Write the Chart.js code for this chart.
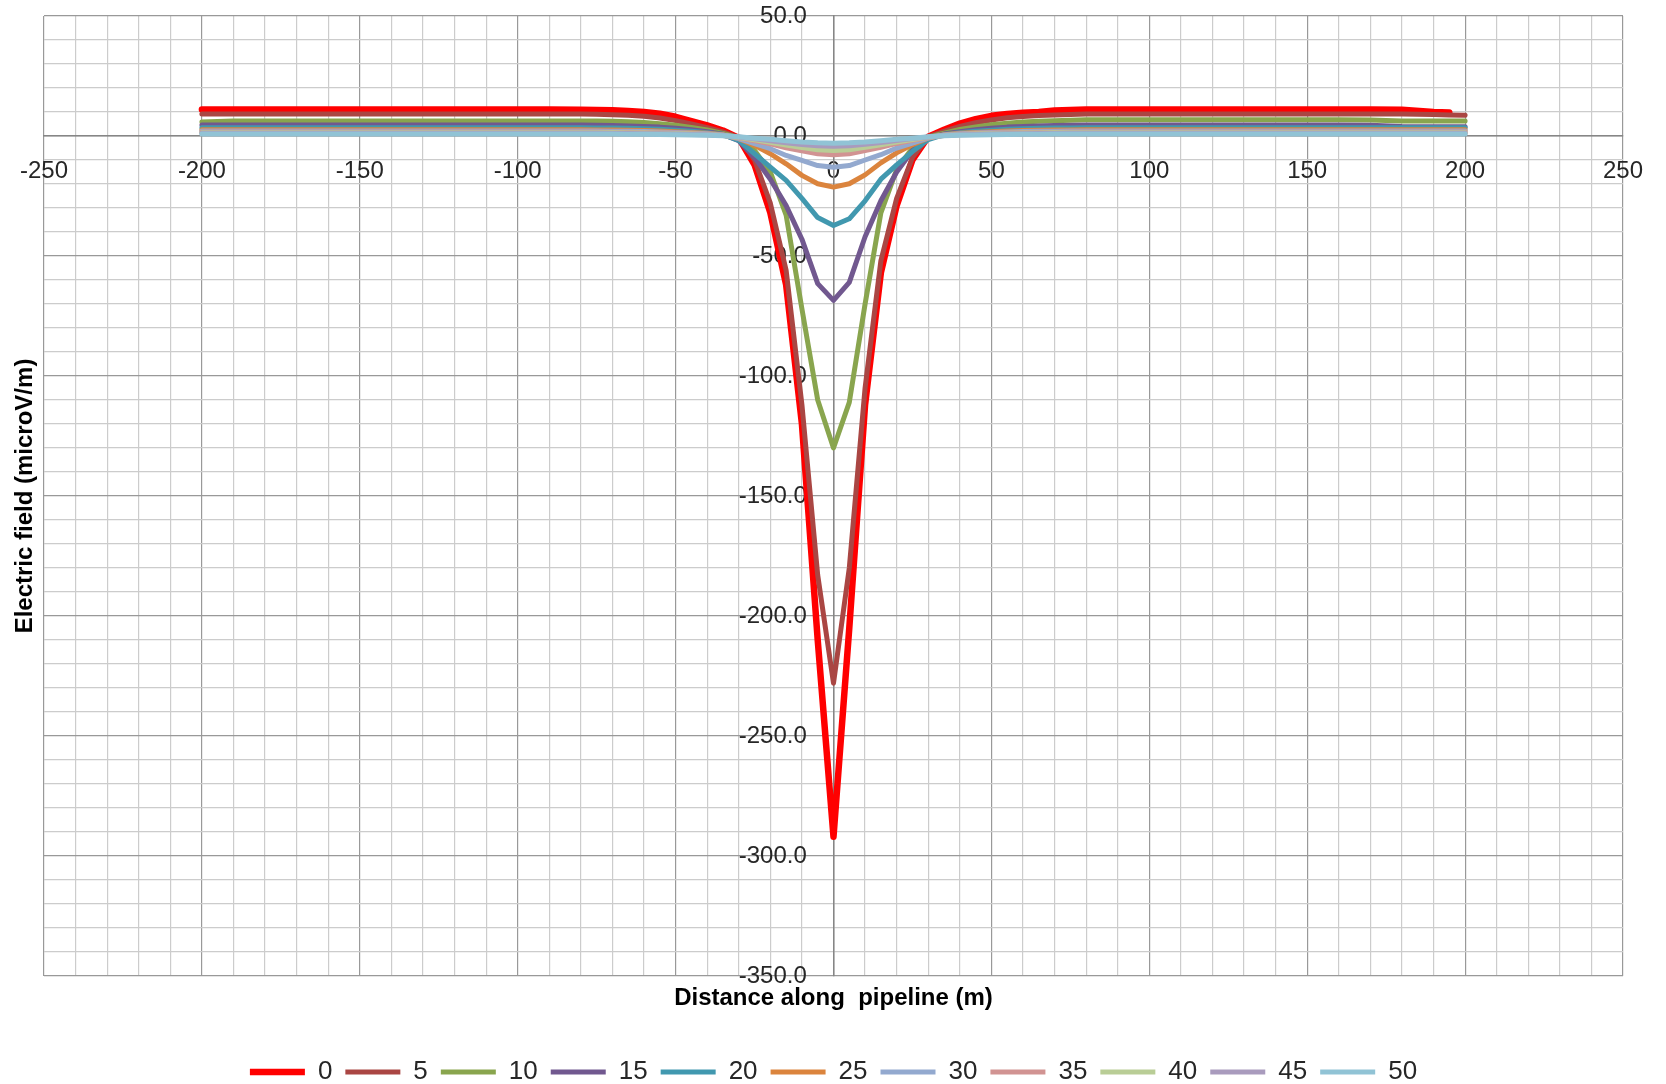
<!DOCTYPE html>
<html>
<head>
<meta charset="utf-8">
<title>Electric field along pipeline</title>
<script src="https://cdn.jsdelivr.net/npm/chart.js@4.4.1/dist/chart.umd.min.js"></script>
<style>
    html, body { margin: 0; padding: 0; background: #ffffff; }
    #wrap { width: 1666px; height: 1084px; }
</style>
</head>
<body>
<div id="wrap"><canvas id="alanChart" width="1666" height="1084"></canvas></div>
<script>
// Mesafe noktalari (m)
const xPos = [-200,-190,-180,-170,-160,-150,-140,-130,-120,-110,-100,-90,-80,
    -75,-70,-65,-60,-55,-50,-45,-40,-35,
    -30,-25,-20,-15,-10,-5,0,5,10,15,20,25,30,
    35,40,45,50,55,60,65,70,75,
    80,90,100,110,120,130,140,150,160,170,180,190,195,200];

// Seri adlari (legend)
const seriesNames = ['0','5','10','15','20','25','30','35','40','45','50'];

// Seri degerleri (microV/m)
const e0 = [11,11,11,11,11,11,11,11,11,11,11,11,10.9,
    10.8,10.7,10.4,10.0,9.3,8.0,6.2,4.4,2.3,
    -0.8,-12,-32,-62,-120,-210,-292,-205,-112,-57,-29,-10,-0.3,
    2.6,5.2,7.0,8.4,9.2,9.7,10.0,10.6,10.8,
    11,11,11,11,11,11,11,11,11,11,10.9,10.0,9.8,null];
const e5 = [9.2,9.2,9.2,9.2,9.2,9.2,9.2,9.2,9.2,9.2,9.2,9.2,9.2,
    9.1,8.9,8.6,8.2,7.5,6.4,5.0,3.5,1.7,
    -0.6,-10,-28,-56,-112,-183,-228,-180,-105,-52,-26,-9,-0.3,
    1.9,4.0,5.5,6.7,7.6,8.1,8.5,8.8,9.0,
    9.2,9.2,9.2,9.2,9.2,9.2,9.2,9.2,9.2,9.2,9.2,9.0,8.8,8.6];
const e10 = [5.8,6.3,6.3,6.3,6.3,6.3,6.3,6.3,6.3,6.3,6.3,6.3,6.3,
    6.3,6.1,5.9,5.6,5.1,4.5,3.6,2.5,1.1,
    -0.8,-6,-15,-33,-72,-110,-130,-111,-70,-32,-14,-5,-0.5,
    1.2,2.7,3.8,4.7,5.3,5.8,6.1,6.4,6.6,
    6.8,6.8,6.8,6.8,6.8,6.8,6.8,6.8,6.8,6.7,6.2,6.2,6.2,6.2];
const e15 = [4.6,4.6,4.6,4.6,4.6,4.6,4.6,4.6,4.6,4.6,4.6,4.6,4.6,
    4.5,4.4,4.2,4.0,3.7,3.2,2.6,1.8,0.7,
    -2,-9,-18,-29,-43,-61.5,-68.5,-61,-42,-27,-15,-6,-1,
    0.8,1.8,2.6,3.2,3.7,4.0,4.2,4.4,4.5,
    4.6,4.6,4.6,4.6,4.6,4.6,4.6,4.6,4.6,4.5,4.0,3.9,3.9,3.9];
const e20 = [3.4,3.4,3.4,3.4,3.4,3.4,3.4,3.4,3.4,3.4,3.4,3.4,3.4,
    3.3,3.3,3.2,3.0,2.8,2.4,2.0,1.4,0.6,
    -1.8,-7.4,-13,-18.5,-26,-34,-37.3,-34.5,-27,-18,-12,-6.5,-1.5,
    0.6,1.4,2.0,2.4,2.8,3.0,3.2,3.3,3.3,
    3.4,3.4,3.4,3.4,3.4,3.4,3.4,3.4,3.4,3.4,3.4,3.4,3.4,3.4];
const e25 = [2.6,2.6,2.6,2.6,2.6,2.6,2.6,2.6,2.6,2.6,2.6,2.6,2.6,
    2.55,2.5,2.4,2.3,2.1,1.8,1.5,1.1,0.5,
    -1.1,-3.9,-7.4,-11.6,-16.4,-19.9,-21.3,-19.9,-16.2,-11.2,-7,-3.6,-0.9,
    0.5,1.1,1.5,1.8,2.1,2.3,2.4,2.5,2.55,
    2.6,2.6,2.6,2.6,2.6,2.6,2.6,2.6,2.6,2.6,2.6,2.6,2.6,2.6];
const e30 = [2.1,2.1,2.1,2.1,2.1,2.1,2.1,2.1,2.1,2.1,2.1,2.1,2.1,
    2.05,2.0,1.95,1.85,1.7,1.5,1.2,0.9,0.4,
    -1.1,-3.2,-5.3,-8.1,-10.2,-12.3,-13,-12.3,-10,-7.8,-5,-3,-0.9,
    0.4,0.9,1.2,1.5,1.7,1.85,1.95,2.0,2.05,
    2.1,2.1,2.1,2.1,2.1,2.1,2.1,2.1,2.1,2.1,2.1,2.1,2.1,2.1];
const e35 = [1.7,1.7,1.7,1.7,1.7,1.7,1.7,1.7,1.7,1.7,1.7,1.7,1.7,
    1.65,1.6,1.55,1.5,1.4,1.2,1.0,0.7,0.3,
    -0.7,-2,-3.3,-4.9,-6.2,-7.4,-7.8,-7.4,-6.1,-4.7,-3.1,-1.8,-0.6,
    0.3,0.7,1.0,1.2,1.4,1.5,1.55,1.6,1.65,
    1.7,1.7,1.7,1.7,1.7,1.7,1.7,1.7,1.7,1.7,1.7,1.7,1.7,1.7];
const e40 = [1.4,1.4,1.4,1.4,1.4,1.4,1.4,1.4,1.4,1.4,1.4,1.4,1.4,
    1.35,1.35,1.3,1.2,1.1,1.0,0.8,0.6,0.25,
    -0.6,-1.6,-2.6,-3.8,-4.8,-5.7,-6,-5.7,-4.7,-3.7,-2.5,-1.5,-0.5,
    0.25,0.6,0.8,1.0,1.1,1.2,1.3,1.35,1.35,
    1.4,1.4,1.4,1.4,1.4,1.4,1.4,1.4,1.4,1.4,1.4,1.4,1.4,1.4];
const e45 = [1.1,1.1,1.1,1.1,1.1,1.1,1.1,1.1,1.1,1.1,1.1,1.1,1.1,
    1.1,1.05,1.0,0.95,0.9,0.8,0.6,0.5,0.2,
    -0.4,-1.2,-2,-2.8,-3.5,-4.1,-4.3,-4.1,-3.4,-2.7,-1.9,-1.1,-0.4,
    0.2,0.5,0.6,0.8,0.9,0.95,1.0,1.05,1.1,
    1.1,1.1,1.1,1.1,1.1,1.1,1.1,1.1,1.1,1.1,1.1,1.1,1.1,1.1];
const e50 = [0.8,0.8,0.8,0.8,0.8,0.8,0.8,0.8,0.8,0.8,0.8,0.8,0.8,
    0.8,0.8,0.75,0.7,0.6,0.5,0.4,0.3,0.1,
    -0.3,-0.9,-1.4,-2,-2.5,-2.85,-3,-2.85,-2.5,-2,-1.4,-0.9,-0.3,
    0.1,0.3,0.4,0.5,0.6,0.7,0.75,0.8,0.8,
    0.8,0.8,0.8,0.8,0.8,0.8,0.8,0.8,0.8,0.8,0.8,0.8,0.8,0.8];

const seriesValues = [e0, e5, e10, e15, e20, e25, e30, e35, e40, e45, e50];

// Excel 2010 renk paleti
const seriesColors = ['#ff0000','#aa4643','#89a54e','#71588f','#4198af','#db843d',
    '#93a9cf','#d19392','#b9cd96','#a99bbd','#91c3d5'];

const FONT = '"Liberation Sans", Arial, sans-serif';

const datasets = seriesNames.map((name, i) => ({
    label: name,
    data: xPos.map((x, k) => ({ x: x, y: seriesValues[i][k] })),
    borderColor: seriesColors[i],
    backgroundColor: seriesColors[i],
    borderWidth: i === 0 ? 6.5 : 5,
    borderCapStyle: 'round',
    borderJoinStyle: 'round',
    pointRadius: 0,
    tension: 0,
    spanGaps: false,
    order: seriesNames.length - i   // sonraki seri ustte cizilsin
}));

function gridColor(ctx) {
    if (!ctx.tick) return '#cccccc';
    return ctx.tick.value % 50 === 0 ? '#999999' : '#cccccc';
}

const alanChart = new Chart(document.getElementById('alanChart').getContext('2d'), {
    type: 'line',
    data: { datasets: datasets },
    options: {
        responsive: false,
        animation: false,
        // legend tuvalin altina yakin dursun diye alt bosluk negatif
        layout: { padding: { top: 16, right: 43, left: 0, bottom: -11 } },
        plugins: {
            tooltip: { enabled: false },
            legend: {
                position: 'bottom',
                fullSize: false,
                labels: {
                    usePointStyle: true,
                    pointStyle: 'line',
                    pointStyleWidth: 55,
                    padding: 13,
                    color: '#262626',
                    font: { family: FONT, size: 26 },
                    sort: (a, b) => a.datasetIndex - b.datasetIndex
                }
            }
        },
        scales: {
            x: {
                type: 'linear',
                min: -250, max: 250,
                position: { y: 0 },
                grid: { color: gridColor, lineWidth: 1.2, drawTicks: true, tickLength: 21, tickColor: 'rgba(0,0,0,0)' },
                border: { color: '#868686', width: 1.5 },
                ticks: {
                    stepSize: 10,
                    autoSkip: false,
                    maxRotation: 0,
                    padding: 0,
                    color: '#262626',
                    font: { family: FONT, size: 24 },
                    callback: v => (v % 50 === 0 ? String(v) : '')
                }
            },
            y: {
                type: 'linear',
                min: -350, max: 50,
                position: { x: 0 },
                grid: { color: gridColor, lineWidth: 1.2, drawTicks: false },
                border: { color: '#868686', width: 1.5 },
                ticks: {
                    stepSize: 10,
                    autoSkip: false,
                    padding: 0,
                    color: '#262626',
                    font: { family: FONT, size: 24 },
                    // sondaki bosluklar etiketi eksenden biraz sola iter
                    callback: v => (v % 50 === 0 ? (v === 0 ? 0 : v).toFixed(1) + '    ' : '')
                }
            },
            // sadece eksen basliklari icin
            xTitle: {
                type: 'linear', axis: 'x', position: 'bottom', min: 0, max: 1,
                grid: { display: false, drawTicks: false }, border: { display: false },
                ticks: { display: false },
                title: {
                    display: true, text: 'Distance along  pipeline (m)', color: '#000',
                    font: { family: FONT, size: 24, weight: 'bold' },
                    padding: { top: 7.6, bottom: 33.6 }
                }
            },
            yTitle: {
                type: 'linear', axis: 'y', position: 'left', min: 0, max: 1,
                grid: { display: false, drawTicks: false }, border: { display: false },
                ticks: { display: false },
                title: {
                    display: true, text: 'Electric field (microV/m)', color: '#000',
                    font: { family: FONT, size: 24, weight: 'bold' },
                    padding: { top: 10.6, bottom: 4.6 }
                }
            }
        }
    }
});
</script>
</body>
</html>
